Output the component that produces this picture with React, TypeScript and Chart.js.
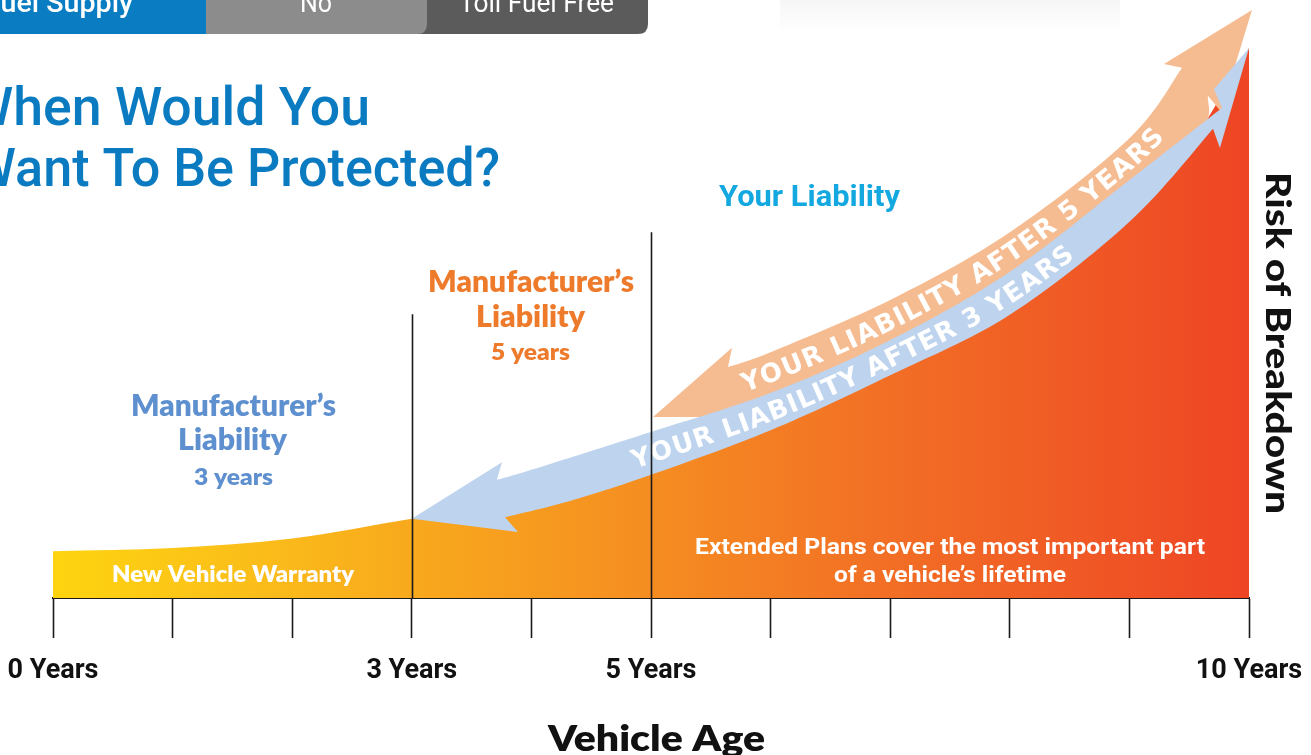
import React, { useEffect, useRef } from "react";
import { Chart, registerables } from "chart.js";

Chart.register(...registerables);

// ---- Risk of breakdown curve (years -> risk units) ----
const YEARS = [0, 1, 2, 3, 4, 5, 6, 7, 8, 9, 9.5, 10];
const RISK = [8.5, 9.1, 10.8, 14.4, 17.5, 23.5, 31.5, 41.5, 52.5, 69.5, 82, 100];

// ---- x-axis tick labels ----
const TICK_YEARS = [0, 3, 5, 10];
const TICK_LABELS = ["0 Years", "3 Years", "5 Years", "10 Years"];

// ---- warranty end markers ----
const MARKER_YEARS = [3, 5];
const MARKER_TOPS = [51.6, 66.5];

// ---- "Your liability after 3 years" band (blue) ----
const BLUE_LOWER_X = [3.779, 4.298, 5.0, 6.0, 7.0, 8.0, 9.0, 9.699];
const BLUE_LOWER_Y = [14.7, 17.5, 22.4, 30.5, 40.5, 51.5, 68.4, 85.3];
const BLUE_UPPER_X = [3.712, 4.0, 5.0, 6.0, 7.0, 8.0, 9.0, 9.774];
const BLUE_UPPER_Y = [21.5, 23.3, 30.2, 37.3, 46.9, 59.3, 76.0, 89.1];
const BLUE_LEFT_HEAD_X = [3.754, 3.0, 3.888];
const BLUE_LEFT_HEAD_Y = [24.7, 14.4, 12.0];
const BLUE_RIGHT_HEAD_X = [9.757, 10.0, 9.707];
const BLUE_RIGHT_HEAD_Y = [81.8, 100, 92.5];
const BLUE_TEXT_RANGE = [4.84, 8.5];

// ---- "Your liability after 5 years" band (orange) ----
const ORANGE_LOWER_X = [5.6, 6.0, 7.0, 8.0, 9.0, 9.6, 9.657];
const ORANGE_LOWER_Y = [32.9, 33.9, 43.7, 55.7, 72.2, 84.5, 91.3];
const ORANGE_UPPER_X = [5.644, 6.0, 7.0, 8.0, 9.0, 9.44];
const ORANGE_UPPER_Y = [42.0, 44.7, 54.2, 66.5, 83.6, 96.4];
const ORANGE_LEFT_HEAD_X = [5.677, 5.017];
const ORANGE_LEFT_HEAD_Y = [45.5, 32.9];
const ORANGE_RIGHT_HEAD_X = [9.766, 10.025, 9.289];
const ORANGE_RIGHT_HEAD_Y = [88.4, 106.9, 97.1];
const ORANGE_TEXT_RANGE = [5.76, 9.24];

const BAND_TEXT_BLUE = "YOUR LIABILITY AFTER 3 YEARS";
const BAND_TEXT_ORANGE = "YOUR LIABILITY AFTER 5 YEARS";

function smooth(pts: number[][], seg = 16): number[][] {
  if (pts.length < 3) return pts.slice();
  const out: number[][] = [];
  for (let i = 0; i < pts.length - 1; i++) {
    const p0 = pts[Math.max(0, i - 1)];
    const p1 = pts[i];
    const p2 = pts[i + 1];
    const p3 = pts[Math.min(pts.length - 1, i + 2)];
    for (let t = 0; t < seg; t++) {
      const u = t / seg;
      const u2 = u * u;
      const u3 = u2 * u;
      const f = (k: number) =>
        0.5 *
        (2 * p1[k] +
          (-p0[k] + p2[k]) * u +
          (2 * p0[k] - 5 * p1[k] + 4 * p2[k] - p3[k]) * u2 +
          (-p0[k] + 3 * p1[k] - 3 * p2[k] + p3[k]) * u3);
      out.push([f(0), f(1)]);
    }
  }
  out.push(pts[pts.length - 1]);
  return out;
}

function yAt(line: number[][], px: number): number {
  if (px <= line[0][0]) return line[0][1];
  for (let i = 0; i < line.length - 1; i++) {
    const a = line[i];
    const b = line[i + 1];
    if (px >= a[0] && px <= b[0]) {
      const t = b[0] === a[0] ? 0 : (px - a[0]) / (b[0] - a[0]);
      return a[1] + (b[1] - a[1]) * t;
    }
  }
  return line[line.length - 1][1];
}

function arcLengths(line: number[][]): number[] {
  const s = [0];
  for (let i = 1; i < line.length; i++) {
    s.push(s[i - 1] + Math.hypot(line[i][0] - line[i - 1][0], line[i][1] - line[i - 1][1]));
  }
  return s;
}

function pointAt(line: number[][], cum: number[], s: number): number[] {
  if (s <= 0) return line[0];
  for (let i = 1; i < line.length; i++) {
    if (cum[i] >= s) {
      const t = (s - cum[i - 1]) / (cum[i] - cum[i - 1] || 1);
      return [
        line[i - 1][0] + (line[i][0] - line[i - 1][0]) * t,
        line[i - 1][1] + (line[i][1] - line[i - 1][1]) * t,
      ];
    }
  }
  return line[line.length - 1];
}

function sAtX(line: number[][], cum: number[], px: number): number {
  for (let i = 1; i < line.length; i++) {
    if (line[i][0] >= px) {
      const t = (px - line[i - 1][0]) / (line[i][0] - line[i - 1][0] || 1);
      return cum[i - 1] + (cum[i] - cum[i - 1]) * t;
    }
  }
  return cum[cum.length - 1];
}

function textOnPath(ctx: CanvasRenderingContext2D, line: number[][], text: string, x0: number, x1: number, font: string, color: string, capH: number) {
  const cum = arcLengths(line);
  const s0 = sAtX(line, cum, x0);
  const s1 = sAtX(line, cum, x1);
  ctx.save();
  ctx.font = font;
  ctx.fillStyle = color;
  const chars = Array.from(text);
  const widths = chars.map((c) => ctx.measureText(c).width);
  const total = widths.reduce((a, b) => a + b, 0);
  const gap = (s1 - s0 - total) / (chars.length - 1);
  let s = s0;
  chars.forEach((ch, i) => {
    const mid = s + widths[i] / 2;
    const p = pointAt(line, cum, mid);
    const pa = pointAt(line, cum, mid - 4);
    const pb = pointAt(line, cum, mid + 4);
    const ang = Math.atan2(pb[1] - pa[1], pb[0] - pa[0]);
    ctx.save();
    ctx.translate(p[0], p[1]);
    ctx.rotate(ang);
    ctx.textAlign = "center";
    ctx.textBaseline = "alphabetic";
    ctx.fillText(ch, 0, capH / 2);
    ctx.restore();
    s += widths[i] + gap;
  });
  ctx.restore();
}

function fitText(ctx: CanvasRenderingContext2D, text: string, x: number, y: number, width: number, font: string, color: string) {
  ctx.save();
  ctx.font = font;
  ctx.fillStyle = color;
  ctx.textAlign = "left";
  ctx.textBaseline = "alphabetic";
  const w = ctx.measureText(text).width;
  ctx.translate(x, y);
  ctx.scale(width / w, 1);
  ctx.fillText(text, 0, 0);
  ctx.restore();
}

function roundRectBR(ctx: CanvasRenderingContext2D, x: number, y: number, w: number, h: number, r: number) {
  ctx.beginPath();
  ctx.moveTo(x, y);
  ctx.lineTo(x + w, y);
  ctx.lineTo(x + w, y + h - r);
  ctx.quadraticCurveTo(x + w, y + h, x + w - r, y + h);
  ctx.lineTo(x, y + h);
  ctx.closePath();
}

const infographicPlugin = {
  id: "infographic",
  afterDatasetsDraw(chart: any) {
    const ctx: CanvasRenderingContext2D = chart.ctx;
    const xs = chart.scales.x;
    const ys = chart.scales.y;
    const toPts = (X: number[], Y: number[]) => X.map((x, i) => [xs.getPixelForValue(x), ys.getPixelForValue(Y[i])]);

    const blueUpper = smooth(toPts(BLUE_UPPER_X, BLUE_UPPER_Y));
    const blueLower = smooth(toPts(BLUE_LOWER_X, BLUE_LOWER_Y));
    const orangeUpper = smooth(toPts(ORANGE_UPPER_X, ORANGE_UPPER_Y));
    const orangeLower = smooth(toPts(ORANGE_LOWER_X, ORANGE_LOWER_Y));

    // orange band
    ctx.save();
    ctx.fillStyle = "#F6BC91";
    ctx.beginPath();
    ctx.moveTo(orangeUpper[0][0], orangeUpper[0][1]);
    toPts(ORANGE_LEFT_HEAD_X, ORANGE_LEFT_HEAD_Y).forEach((p) => ctx.lineTo(p[0], p[1]));
    orangeLower.forEach((p) => ctx.lineTo(p[0], p[1]));
    toPts(ORANGE_RIGHT_HEAD_X, ORANGE_RIGHT_HEAD_Y).forEach((p) => ctx.lineTo(p[0], p[1]));
    for (let i = orangeUpper.length - 1; i >= 0; i--) ctx.lineTo(orangeUpper[i][0], orangeUpper[i][1]);
    ctx.closePath();
    ctx.fill();

    // blue band
    ctx.fillStyle = "#BDD3EE";
    ctx.beginPath();
    ctx.moveTo(blueUpper[0][0], blueUpper[0][1]);
    toPts(BLUE_LEFT_HEAD_X, BLUE_LEFT_HEAD_Y).forEach((p) => ctx.lineTo(p[0], p[1]));
    blueLower.forEach((p) => ctx.lineTo(p[0], p[1]));
    toPts(BLUE_RIGHT_HEAD_X, BLUE_RIGHT_HEAD_Y).forEach((p) => ctx.lineTo(p[0], p[1]));
    for (let i = blueUpper.length - 1; i >= 0; i--) ctx.lineTo(blueUpper[i][0], blueUpper[i][1]);
    ctx.closePath();
    ctx.fill();
    ctx.restore();

    // center lines for text
    const blueMid: number[][] = [];
    for (let px = xs.getPixelForValue(3.9); px <= xs.getPixelForValue(9.6); px += 2) {
      blueMid.push([px, (yAt(blueUpper, px) + yAt(blueLower, px)) / 2]);
    }
    const orangeMid: number[][] = [];
    for (let px = xs.getPixelForValue(5.7); px <= xs.getPixelForValue(9.4); px += 2) {
      orangeMid.push([px, (yAt(orangeUpper, px) + yAt(blueUpper, px)) / 2]);
    }
    const bandFont = 'bold 26px "DejaVu Sans"';
    textOnPath(ctx, blueMid, BAND_TEXT_BLUE, xs.getPixelForValue(BLUE_TEXT_RANGE[0]), xs.getPixelForValue(BLUE_TEXT_RANGE[1]), bandFont, "#FFFFFF", 19);
    textOnPath(ctx, orangeMid, BAND_TEXT_ORANGE, xs.getPixelForValue(ORANGE_TEXT_RANGE[0]), xs.getPixelForValue(ORANGE_TEXT_RANGE[1]), bandFont, "#FFFFFF", 19);

    // marker lines
    ctx.save();
    ctx.strokeStyle = "#1a1a1a";
    ctx.lineWidth = 1.6;
    MARKER_YEARS.forEach((yr, i) => {
      const px = Math.round(xs.getPixelForValue(yr)) + 0.5;
      ctx.beginPath();
      ctx.moveTo(px, ys.getPixelForValue(MARKER_TOPS[i]));
      ctx.lineTo(px, ys.getPixelForValue(0));
      ctx.stroke();
    });
    ctx.restore();
  },
  afterDraw(chart: any) {
    const ctx: CanvasRenderingContext2D = chart.ctx;
    // header bar
    ctx.save();
    ctx.fillStyle = "#5B5B5C";
    roundRectBR(ctx, 400, 0, 248, 34, 10);
    ctx.fill();
    ctx.fillStyle = "#8C8C8C";
    roundRectBR(ctx, 205, 0, 222, 34, 10);
    ctx.fill();
    ctx.fillStyle = "#0A7DC2";
    ctx.fillRect(0, 0, 206, 34);
    const g = ctx.createLinearGradient(0, 0, 0, 32);
    g.addColorStop(0, "rgba(0,0,0,0.035)");
    g.addColorStop(1, "rgba(0,0,0,0.0)");
    ctx.fillStyle = g;
    ctx.fillRect(780, 0, 340, 32);
    ctx.restore();
    fitText(ctx, "Fuel Supply", -15, 12, 148, "500 27px Roboto", "#FFFFFF");
    fitText(ctx, "No", 300, 12, 32, "400 27px Roboto", "#FFFFFF");
    fitText(ctx, "Toll Fuel Free", 459, 12, 155, "400 27px Roboto", "#FFFFFF");

    // title
    fitText(ctx, "When Would You", -34, 125, 404, "500 54px Roboto", "#0A7BC1");
    fitText(ctx, "Want To Be Protected?", -30, 186, 530, "500 54px Roboto", "#0A7BC1");

    // annotations
    fitText(ctx, "Your Liability", 719, 206, 181, "bold 30px Roboto", "#14A8E0");
    const orange = "#EE7B2B";
    fitText(ctx, "Manufacturer\u2019s", 428, 292, 206, "800 30px Lato", orange);
    fitText(ctx, "Liability", 476, 327, 109, "800 30px Lato", orange);
    fitText(ctx, "5 years", 491, 360, 79, "800 23px Lato", orange);
    const blue = "#5E8FCE";
    fitText(ctx, "Manufacturer\u2019s", 131, 416, 205, "800 30px Lato", blue);
    fitText(ctx, "Liability", 178, 450, 109, "800 30px Lato", blue);
    fitText(ctx, "3 years", 194, 485, 79, "800 23px Lato", blue);

    fitText(ctx, "New Vehicle Warranty", 112, 582, 242, "800 22px Lato", "#FFFFFF");
    fitText(ctx, "Extended Plans cover the most important part", 695, 554, 510, "bold 22px Roboto", "#FFFFFF");
    fitText(ctx, "of a vehicle\u2019s lifetime", 834, 582, 232, "bold 22px Roboto", "#FFFFFF");

    fitText(ctx, "Vehicle Age", 548, 751, 217, "800 35px Lato", "#111111");

    ctx.save();
    ctx.translate(1266, 172);
    ctx.rotate(Math.PI / 2);
    fitText(ctx, "Risk of Breakdown", 0, 0, 342, "900 35px Lato", "#111111");
    ctx.restore();
  },
};

export default function App() {
  const ref = useRef<HTMLCanvasElement>(null);
  useEffect(() => {
    const canvas = ref.current as HTMLCanvasElement;
    const chart = new Chart(canvas, {
      type: "line",
      data: {
        datasets: [
          {
            label: "Risk of Breakdown",
            data: YEARS.map((x, i) => ({ x, y: RISK[i] })),
            fill: "origin",
            borderWidth: 0,
            borderColor: "rgba(0,0,0,0)",
            pointRadius: 0,
            cubicInterpolationMode: "monotone",
            backgroundColor: (c: any) => {
              const a = c.chart.chartArea;
              if (!a) return "#F58D21";
              const g = c.chart.ctx.createLinearGradient(a.left, 0, a.right, 0);
              g.addColorStop(0, "#FDD40F");
              g.addColorStop(0.15, "#FBC019");
              g.addColorStop(0.3, "#F8A91D");
              g.addColorStop(0.5, "#F58D21");
              g.addColorStop(0.7, "#F26E25");
              g.addColorStop(0.85, "#F05A25");
              g.addColorStop(1, "#EE4524");
              return g;
            },
          },
        ],
      },
      options: {
        responsive: false,
        animation: false,
        events: [],
        layout: { padding: { left: 53, right: 62, top: 4, bottom: 0 } },
        plugins: { legend: { display: false }, tooltip: { enabled: false } },
        scales: {
          x: {
            type: "linear",
            min: 0,
            max: 10,
            z: 1,
            afterFit: (s: any) => {
              s.height = 157;
              s.paddingLeft = 0;
              s.paddingRight = 0;
            },
            ticks: {
              stepSize: 1,
              autoSkip: false,
              maxRotation: 0,
              minRotation: 0,
              padding: 17,
              color: "#111111",
              font: { family: "Roboto", weight: "bold", size: 27 },
              callback: (v: any) => {
                const i = TICK_YEARS.indexOf(Number(v));
                return i >= 0 ? TICK_LABELS[i] : "";
              },
            },
            grid: {
              display: true,
              drawOnChartArea: false,
              drawTicks: true,
              tickLength: 40,
              tickColor: "#1a1a1a",
              tickWidth: 1.6,
            },
            border: { display: true, color: "#1a1a1a", width: 2 },
          },
          y: { display: false, min: 0, max: 108 },
        },
      },
      plugins: [infographicPlugin],
    } as any);
    return () => chart.destroy();
  }, []);
  return (
    <div style={{ position: "absolute", left: 0, top: 0, width: 1311, height: 755, background: "#fff", overflow: "hidden" }}>
      <canvas ref={ref} width={1311} height={755} style={{ display: "block" }} />
    </div>
  );
}
